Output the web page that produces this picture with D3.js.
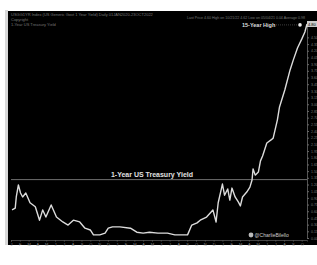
<!DOCTYPE html>
<html>
<head>
<meta charset="utf-8">
<script src="https://cdn.jsdelivr.net/npm/d3@7"></script>
<style>
body { margin: 0; background: #fff; }
svg { display: block; font-family: "Liberation Sans", Arial, sans-serif; }
</style>
</head>
<body>
<div id="chart"></div>
<script>
// time as decimal years, yield in %
var years = [2020.01, 2020.04, 2020.05, 2020.07, 2020.09, 2020.11, 2020.14, 2020.18, 2020.23, 2020.27,
	2020.30, 2020.33, 2020.38, 2020.43, 2020.49, 2020.54, 2020.59, 2020.65, 2020.70, 2020.75,
	2020.78, 2020.84, 2020.89, 2020.92, 2020.96, 2021.03, 2021.13, 2021.19, 2021.25, 2021.31,
	2021.39, 2021.48, 2021.55, 2021.63, 2021.67, 2021.71, 2021.76, 2021.79, 2021.85, 2021.91,
	2021.94, 2021.96, 2022.00, 2022.02, 2022.05, 2022.07, 2022.09, 2022.12, 2022.15, 2022.17,
	2022.19, 2022.23, 2022.26, 2022.28, 2022.29, 2022.31, 2022.34, 2022.36, 2022.38, 2022.42,
	2022.46, 2022.48, 2022.52, 2022.54, 2022.59, 2022.64, 2022.67, 2022.71, 2022.75, 2022.78, 2022.80];
var yields = [0.63, 0.67, 0.92, 1.19, 1.01, 0.92, 1.01, 0.79, 0.70, 0.40,
	0.63, 0.47, 0.74, 0.47, 0.36, 0.29, 0.40, 0.36, 0.22, 0.18,
	0.07, 0.07, 0.11, 0.22, 0.25, 0.25, 0.22, 0.13, 0.11, 0.13,
	0.11, 0.11, 0.07, 0.07, 0.07, 0.29, 0.34, 0.40, 0.47, 0.63,
	0.36, 0.79, 1.21, 0.96, 1.10, 0.85, 1.12, 0.92, 0.81, 0.72,
	0.92, 1.03, 1.14, 1.30, 1.55, 1.41, 1.48, 1.73, 1.84, 2.13,
	2.20, 2.24, 2.65, 2.94, 3.32, 3.77, 3.99, 4.26, 4.46, 4.62, 4.80];
var refLevel = 1.31;
var highLevel = 4.78;
var monthLetters = ["J", "F", "M", "A", "M", "J", "J", "A", "S", "O", "N", "D"];
var headerLines = ["USGG1YR Index (US Generic Govt 1 Year Yield)  Daily  01JAN2020-23OCT2022",
	"Copyright",
	"1-Year US Treasury Yield"];
var legendText = "Last Price  4.60  High on 10/21/22  4.62  Low on 05/04/21  0.04  Average  0.98";

var W = 317, H = 265;
var svg = d3.select("#chart").append("svg").attr("width", W).attr("height", H);

// panel
svg.append("rect").attr("x", 5).attr("y", 10).attr("width", 3).attr("height", 235).attr("fill", "#d8d8d8");
svg.append("rect").attr("x", 8).attr("y", 11).attr("width", 309).attr("height", 234).attr("fill", "#000");

var x = d3.scaleLinear().domain([2020.0, 2022.8]).range([11, 307]);
var y = d3.scaleLinear().domain([0, 4.8]).range([238, 24]);

// header text
svg.selectAll(".hdr").data(headerLines).enter().append("text")
	.attr("x", 11).attr("y", function(d, i) { return 16 + i * 5; })
	.attr("font-size", 4).attr("fill", "#777").text(function(d) { return d; });
svg.append("text").attr("x", 305).attr("y", 19).attr("text-anchor", "end")
	.attr("font-size", 3.6).attr("fill", "#777").text(legendText);

// right axis
var yTicks = d3.range(0, 4.55, 0.15);
var ra = svg.append("g").attr("transform", "translate(307,0)")
	.call(d3.axisRight(y).tickValues(yTicks).tickSize(2).tickFormat(d3.format(".2f")));
ra.select(".domain").attr("stroke", "#555");
ra.selectAll("line").attr("stroke", "#666");
ra.selectAll("text").attr("font-size", 3.5).attr("fill", "#777").attr("dx", -1);

// bottom axis, monthly
var months = d3.range(0, 34).map(function(m) { return 2020 + m / 12; });
var ba = svg.append("g").attr("transform", "translate(0,240)")
	.call(d3.axisBottom(x).tickValues(months).tickSize(1.5)
		.tickFormat(function(d, i) { return monthLetters[i % 12]; }));
ba.select(".domain").attr("stroke", "#444");
ba.selectAll("line").attr("stroke", "#555");
ba.selectAll("text").attr("font-size", 4).attr("fill", "#888").attr("dy", "0.3em");

// reference line
svg.append("line").attr("x1", 11).attr("x2", 307)
	.attr("y1", y(refLevel)).attr("y2", y(refLevel))
	.attr("stroke", "#8a8a8a").attr("stroke-width", 0.8);
svg.append("text").attr("x", 152).attr("y", y(refLevel) - 3).attr("text-anchor", "middle")
	.attr("font-size", 7).attr("font-weight", "bold").attr("fill", "#e0e0e0").text("1-Year US Treasury Yield");

// series
var pts = years.map(function(d, i) { return [d, yields[i]]; });
svg.append("path").datum(pts)
	.attr("fill", "none").attr("stroke", "#dcdcdc").attr("stroke-width", 1.4)
	.attr("stroke-linejoin", "round")
	.attr("d", d3.line().x(function(d) { return x(d[0]); }).y(function(d) { return y(d[1]); }));

// high annotation
svg.append("line").attr("x1", 274).attr("x2", 298)
	.attr("y1", y(highLevel)).attr("y2", y(highLevel))
	.attr("stroke", "#666").attr("stroke-width", 0.6).attr("stroke-dasharray", "1,1");
svg.append("text").attr("x", 242).attr("y", y(highLevel) + 2).attr("font-size", 5.5)
	.attr("font-weight", "bold").attr("fill", "#ddd").text("15-Year High");
svg.append("circle").attr("cx", 300).attr("cy", y(highLevel)).attr("r", 1.8).attr("fill", "#eee");

// last value box
svg.append("rect").attr("x", 307).attr("y", y(yields[yields.length - 1]) - 3)
	.attr("width", 10).attr("height", 6).attr("fill", "#ccc");
svg.append("text").attr("x", 308).attr("y", y(yields[yields.length - 1]) + 1.5)
	.attr("font-size", 4).attr("fill", "#000").text(d3.format(".2f")(yields[yields.length - 1]));

// credit
svg.append("circle").attr("cx", 251).attr("cy", 235).attr("r", 2.4).attr("fill", "#bbb");
svg.append("text").attr("x", 254.5).attr("y", 237).attr("font-size", 5).attr("fill", "#ccc").text("@CharlieBilello");
</script>
</body>
</html>
